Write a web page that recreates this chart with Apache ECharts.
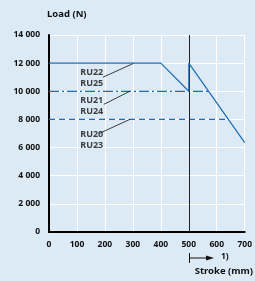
<!DOCTYPE html>
<html>
<head>
<meta charset="utf-8">
<script src="https://cdn.jsdelivr.net/npm/echarts@6/dist/echarts.min.js"></script>
<style>
  html, body { margin: 0; padding: 0; background: #dceaf6; }
  #chart { width: 255px; height: 281px; }
</style>
</head>
<body>
<div id="chart"></div>
<script>
// stroke (mm) / load (N)
const loadCurve = [[0, 12000], [400, 12000], [500, 10000], [500, 12000], [700, 6350]];
const limit10k = [[0, 10000], [574, 10000]];
const limit8k = [[0, 8000], [642, 8000]];
const strokeMark = 500;

const groupNames = ["RU22\nRU25", "RU21\nRU24", "RU20\nRU23"];
// leader lines: from label to the limit line
const leaders = [
  [[193, 11000], [304, 12000]],
  [[196, 9070], [289, 10000]],
  [[179, 7000], [289, 8000]]
];
const labelAnchors = [[194, 10960], [194, 8960], [194, 6570]];

const xTicks = [0, 100, 200, 300, 400, 500, 600, 700];
const yTicks = [0, 2000, 4000, 6000, 8000, 10000, 12000, 14000];

const font = "'Noto Sans', 'DejaVu Sans', sans-serif";
const blue = "#1d6db6";

let myChart = echarts.init(document.getElementById("chart"));

const fmt = v => v === 0 ? "0" : String(v).replace(/(\d)(?=(\d{3})$)/, "$1 ");

let series = [
  {
    type: "line",
    data: loadCurve,
    symbol: "none",
    lineStyle: { color: blue, width: 1.2 },
    z: 5,
    markLine: {
      silent: true,
      symbol: "none",
      label: { show: false },
      lineStyle: { color: "#222", width: 1, type: "solid" },
      data: [[{ coord: [strokeMark, 0] }, { coord: [strokeMark, 14000] }]]
    }
  },
  {
    type: "line",
    data: limit10k,
    symbol: "none",
    lineStyle: { color: blue, width: 1.2, type: [10, 3, 2, 3] }
  },
  {
    type: "line",
    data: limit8k,
    symbol: "none",
    lineStyle: { color: blue, width: 1.2, type: [6, 4] }
  }
];

leaders.forEach(l => {
  series.push({
    type: "line",
    data: l,
    symbol: "none",
    lineStyle: { color: "#111", width: 0.8 }
  });
});

series.push({
  type: "scatter",
  symbolSize: 0,
  data: labelAnchors.map((p, i) => ({ value: p, name: groupNames[i] })),
  label: {
    show: true,
    position: "left",
    distance: 0,
    formatter: p => p.name,
    color: "#111",
    fontFamily: font,
    fontWeight: "bold",
    fontSize: 9,
    lineHeight: 11,
    align: "right"
  }
});

let option = {
  backgroundColor: "#dceaf6",
  animation: false,
  grid: { left: 49, right: 10, top: 35, bottom: 49 },
  xAxis: {
    type: "value",
    min: 0,
    max: 700,
    interval: 100,
    axisLine: { show: true, onZero: false, lineStyle: { color: "#000", width: 2 } },
    axisTick: { show: false },
    axisLabel: { color: "#111", fontFamily: font, fontWeight: "bold", fontSize: 8.5, margin: 8,
      formatter: v => xTicks.includes(v) ? String(v) : "" },
    splitLine: { show: true, lineStyle: { color: "#ffffff", width: 1 } }
  },
  yAxis: {
    type: "value",
    min: 0,
    max: 14000,
    interval: 2000,
    axisLine: { show: true, lineStyle: { color: "#000", width: 2 } },
    axisTick: { show: false },
    axisLabel: { color: "#111", fontFamily: font, fontWeight: "bold", fontSize: 8.5, margin: 9,
      formatter: v => yTicks.includes(v) ? fmt(v) : "" },
    splitLine: { show: true, lineStyle: { color: "#ffffff", width: 1 } }
  },
  graphic: [
    { type: "text", left: 47, top: 9, style: { text: "Load (N)", fill: "#111", font: "bold 9.5px " + font } },
    { type: "text", right: 2, top: 266, style: { text: "Stroke (mm)", fill: "#111", font: "bold 9.5px " + font } },
    { type: "line", shape: { x1: 189.5, y1: 253, x2: 189.5, y2: 263 }, style: { stroke: "#111", lineWidth: 1 } },
    { type: "line", shape: { x1: 189, y1: 258, x2: 207, y2: 258 }, style: { stroke: "#111", lineWidth: 1 } },
    { type: "polygon", shape: { points: [[206, 255.5], [214, 258], [206, 260.5]] }, style: { fill: "#111" } },
    { type: "text", left: 221, top: 252, style: { text: "1)", fill: "#111", font: "bold 8.5px " + font } }
  ],
  series: series
};

myChart.setOption(option);
</script>
</body>
</html>
